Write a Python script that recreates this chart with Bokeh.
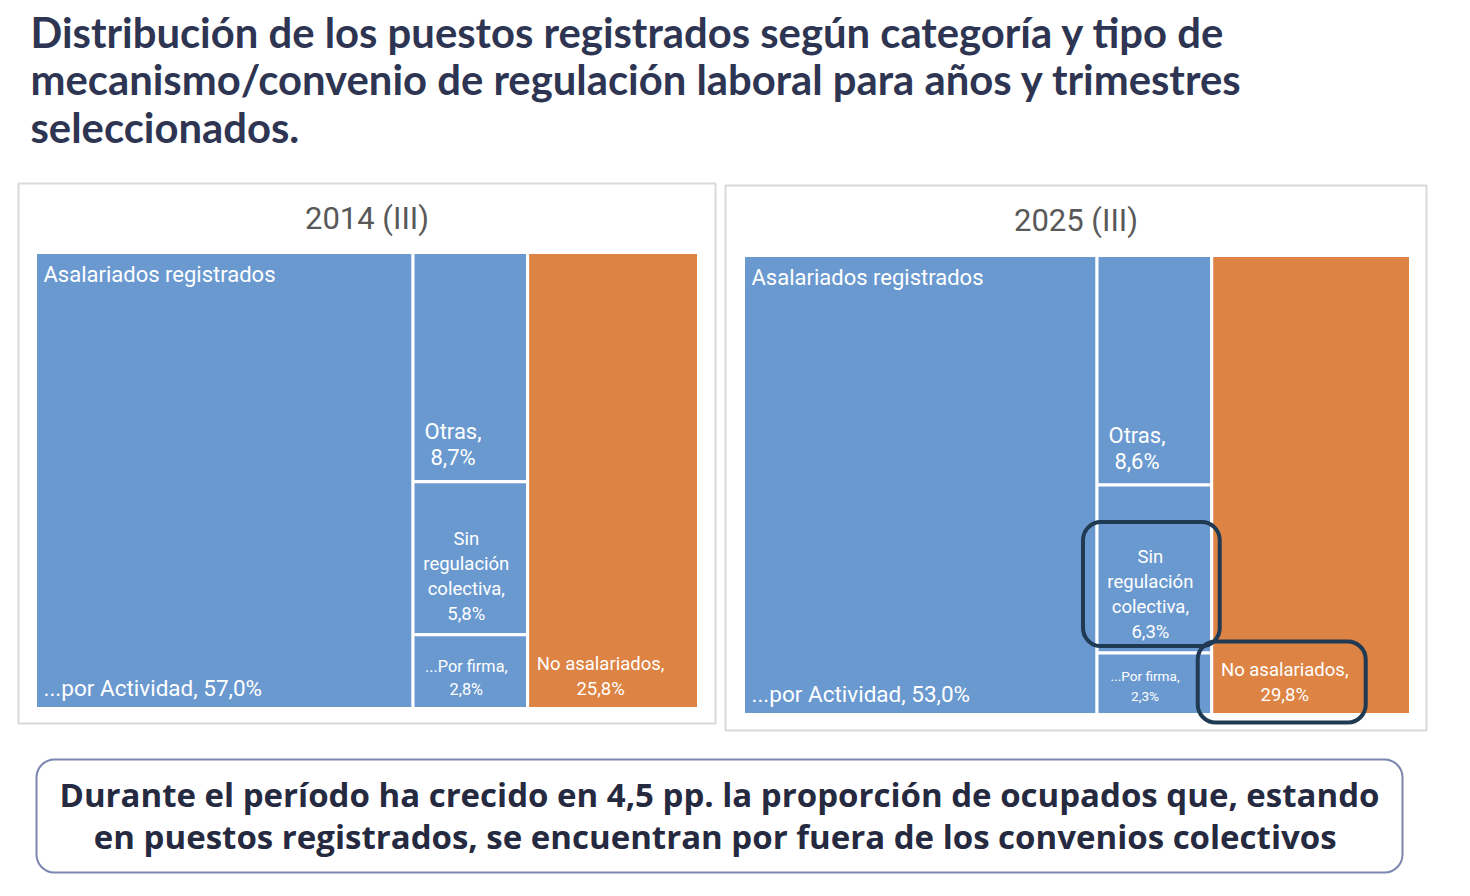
from bokeh.plotting import figure
from bokeh.models import Range1d, BoxAnnotation
from bokeh.core.properties import value
from bokeh.embed import file_html
from bokeh.resources import INLINE

W, H = 1470, 896

# ---- data -------------------------------------------------------------
categories = ["...por Actividad", "Otras", "Sin regulación colectiva",
              "...Por firma", "No asalariados"]
group_label = "Asalariados registrados"
periods = ["2014 (III)", "2025 (III)"]
shares_2014 = [57.0, 8.7, 5.8, 2.8, 25.8]
shares_2025 = [53.0, 8.6, 6.3, 2.3, 29.8]
highlighted_2025 = ["Sin regulación colectiva", "No asalariados"]

title_lines = [
    "Distribución de los puestos registrados según categoría y tipo de",
    "mecanismo/convenio de regulación laboral para años y trimestres",
    "seleccionados.",
]
note_lines = [
    "Durante el período ha crecido en 4,5 pp. la proporción de ocupados que, estando",
    "en puestos  registrados, se encuentran por fuera de los convenios colectivos",
]

# ---- styling / layout --------------------------------------------------
BLUE = "#6A99D0"
ORANGE = "#DD8343"
NAVY = "#2E3552"
HILITE = "#1F3A52"
LABEL_FONT = value("Roboto")

# slice-and-dice columns (indices into categories)
columns = [[0], [1, 2, 3], [4]]
fills = [BLUE, BLUE, BLUE, BLUE, ORANGE]

# panel frame and treemap area, in px from the top-left of the page
panels = [
    dict(name=periods[0], vals=shares_2014, frame=(18, 183, 715, 723),
         area=(35, 252, 698, 708), title_y=218),
    dict(name=periods[1], vals=shares_2025, frame=(725, 185, 1426, 730),
         area=(743, 255, 1410, 714), title_y=220),
]


def Y(y):
    """page px (from top) -> data y"""
    return H - y


def fmt(v):
    return f"{v:.1f}".replace(".", ",") + "%"


def treemap(vals, area):
    l, t, r, b = area
    total = sum(vals)
    rects = [None] * len(vals)
    x = l
    for col in columns:
        csum = sum(vals[i] for i in col)
        cw = (r - l) * csum / total
        y = t
        for i in col:
            h = (b - t) * vals[i] / csum
            rects[i] = (x, y, x + cw, y + h)
            y += h
        x += cw
    return rects


p = figure(width=W, height=H, x_range=Range1d(0, W), y_range=Range1d(0, H),
           x_axis_type=None, y_axis_type=None, toolbar_location=None,
           output_backend="svg", min_border=0)
p.grid.visible = False
p.outline_line_color = None
p.background_fill_color = "white"
p.border_fill_color = "white"

# title
p.text(x=[30] * len(title_lines), y=[Y(31 + 47.5 * i) for i in range(len(title_lines))],
       text=title_lines, text_font=value("Lato"), text_font_style="bold",
       text_font_size="41.8px", text_color=NAVY, text_baseline="middle", text_align="left")


def add_text(xs, ys, texts, size, align="left", color="white"):
    p.text(x=xs, y=[Y(v) for v in ys], text=texts, text_font=LABEL_FONT,
           text_font_size=size, text_color=color, text_baseline="middle",
           text_align=align)


for panel in panels:
    fl, ft, fr, fb = panel["frame"]
    p.add_layout(BoxAnnotation(left=fl, right=fr, top=Y(ft), bottom=Y(fb),
                               fill_color="white", fill_alpha=1.0,
                               line_color="#D9D9D9", line_alpha=1.0, line_width=2,
                               level="underlay"))
    add_text([(fl + fr) / 2], [panel["title_y"]], [panel["name"]], "31px",
             align="center", color="#595959")

    vals = panel["vals"]
    rects = treemap(vals, panel["area"])
    p.quad(left=[r[0] for r in rects], right=[r[2] for r in rects],
           top=[Y(r[1]) for r in rects], bottom=[Y(r[3]) for r in rects],
           fill_color=fills, line_color="white", line_width=3)

    # largest tile: group label on top, own label at the bottom
    x0, y0, x1, y1 = rects[0]
    add_text([x0 + 8], [y0 + 22], [group_label], "22px")
    add_text([x0 + 8], [y1 - 21], [f"{categories[0]}, {fmt(vals[0])}"], "22.5px")

    # Otras
    x0, y0, x1, y1 = rects[1]
    add_text([x0 + 40] * 2, [y1 - 50, y1 - 24],
             [f"{categories[1]},", fmt(vals[1])], "22px", align="center")

    # Sin regulación colectiva
    x0, y0, x1, y1 = rects[2]
    words = categories[2].split(" ")
    lines2 = [words[0], words[1], words[2] + ",", fmt(vals[2])]
    cx = (x0 + x1) / 2 - 4
    add_text([cx] * 4, [y1 - 21 - 25 * (3 - k) for k in range(4)], lines2,
             "18.5px", align="center")

    # Por firma (font shrinks with the tile)
    x0, y0, x1, y1 = rects[3]
    h3 = y1 - y0
    fs = min(16.3, h3 / 4.5)
    lh = fs * 1.4
    cx = (x0 + x1) / 2 - 4 - (16.3 - fs) * 2
    add_text([cx] * 2, [y1 - 19 - lh, y1 - 19],
             [f"{categories[3]},", fmt(vals[3])], f"{fs:.1f}px", align="center")

    # No asalariados
    x0, y0, x1, y1 = rects[4]
    add_text([x0 + 73] * 2, [y1 - 45, y1 - 20],
             [f"{categories[4]},", fmt(vals[4])], "18.5px", align="center")

    # highlight frames (latest period only)
    if panel["name"] == periods[1]:
        for cat in highlighted_2025:
            i = categories.index(cat)
            x0, y0, x1, y1 = rects[i]
            if cat == "No asalariados":
                box = (x0 - 14, y1 - 73, x0 + 154, y1 + 8)
            else:
                box = (x0 - 14, y1 - 131, x1 + 8, y1 - 7)
            p.add_layout(BoxAnnotation(left=box[0], right=box[2], top=Y(box[1]),
                                       bottom=Y(box[3]), fill_alpha=0,
                                       line_color=HILITE, line_alpha=1.0,
                                       line_width=4, border_radius=18))

# conclusion box
p.add_layout(BoxAnnotation(left=36, right=1402, top=Y(759), bottom=Y(872),
                           fill_color="white", fill_alpha=1.0,
                           line_color="#7A86AD", line_alpha=1.0, line_width=2,
                           border_radius=18, level="underlay"))
p.text(x=[719, 719], y=[Y(794), Y(836)], text=note_lines, text_font=value("Open Sans"),
       text_font_style="bold", text_font_size="33px", text_color="#262A40",
       text_baseline="middle", text_align="center")

open("out.html", "w").write(file_html(p, INLINE))
